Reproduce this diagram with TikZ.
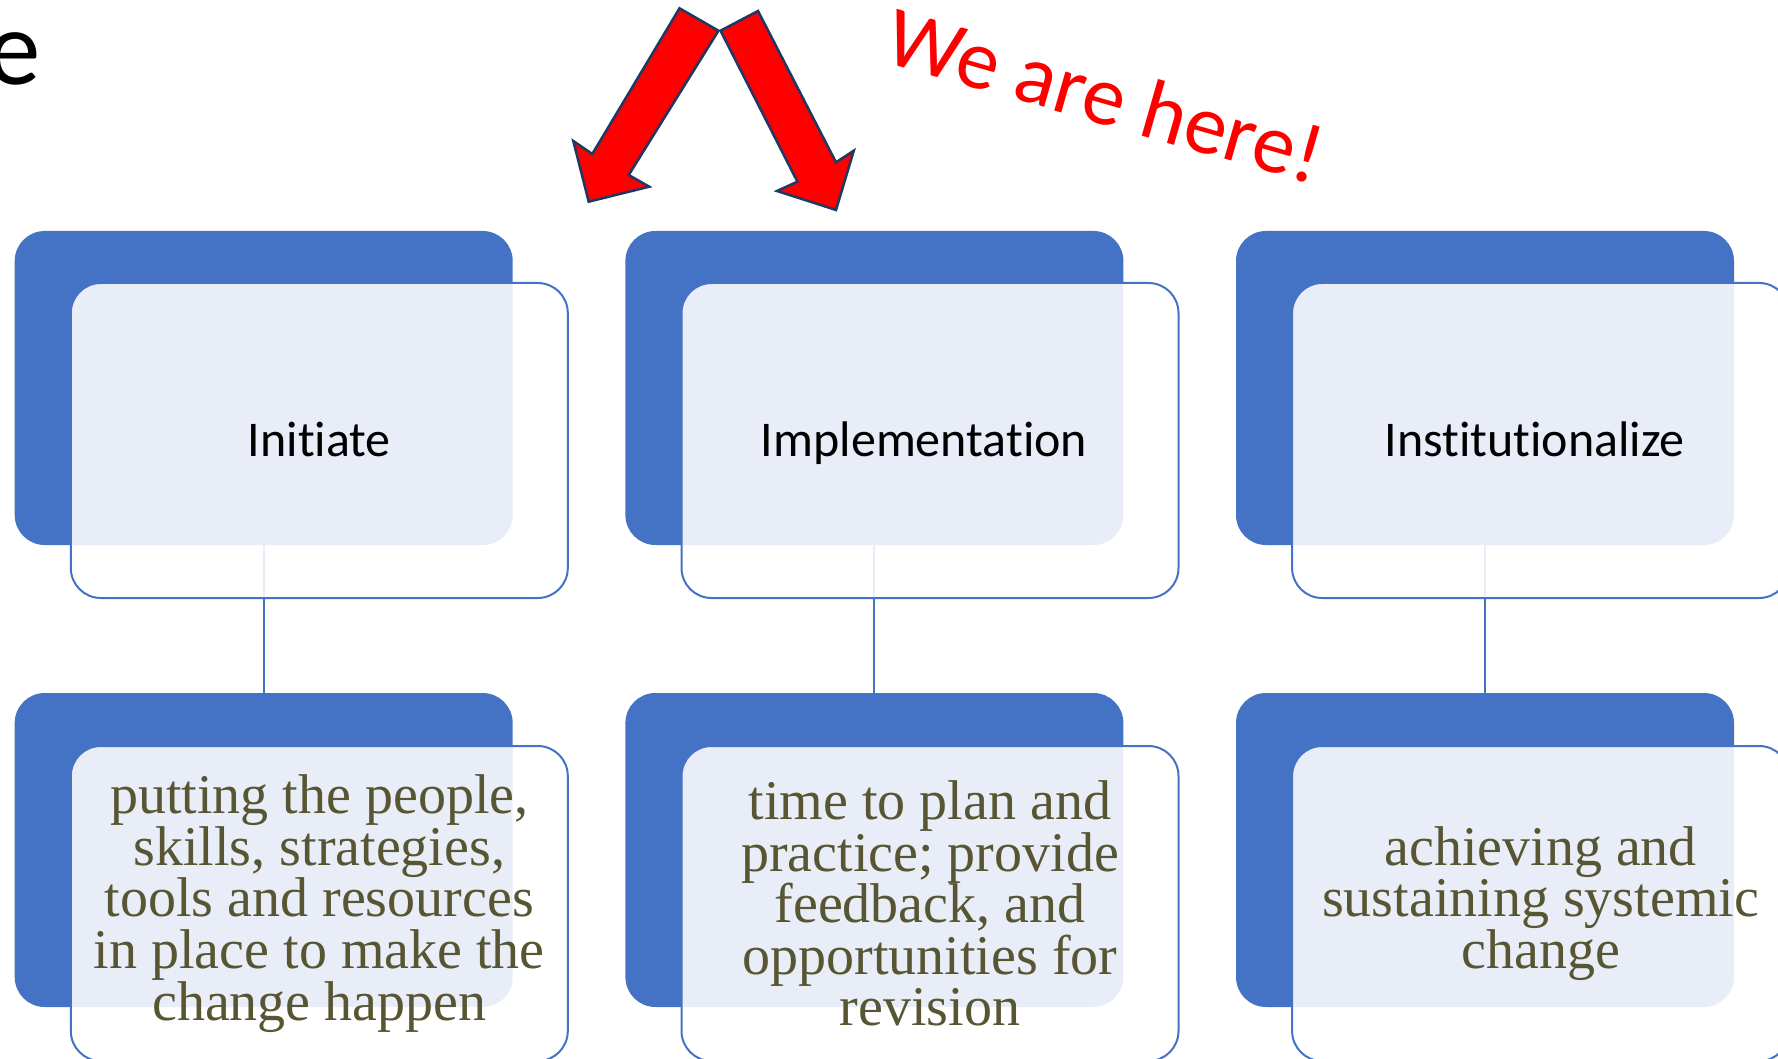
\documentclass[tikz,border=0pt]{standalone}
\usepackage{fontspec}
\setmainfont{Liberation Serif}
\newfontfamily\calibri[Ligatures={NoCommon,NoContextual}]{Carlito}
\definecolor{accent}{HTML}{4472C4}
\definecolor{olivetext}{RGB}{87,85,50}
\definecolor{arrowline}{HTML}{1F3864}
\begin{document}
\begin{tikzpicture}[x=1pt,y=-1pt,
  bluebox/.style={fill=accent, rounded corners=30pt, minimum width=498pt, minimum height=314pt, inner sep=0pt, draw=none},
  outbox/.style={fill=white, fill opacity=0.88, text opacity=1, draw=accent, line width=2pt, rounded corners=30pt, minimum width=497pt, minimum height=315pt, inner sep=0pt, align=center},
  headtext/.style={font=\calibri\fontsize{50}{60}\selectfont, text=black, text height=32pt, text depth=0pt},
  bodytext/.style={font=\fontsize{56}{51.6}\selectfont, text=olivetext},
  conn/.style={draw=accent, line width=2pt},
  redarrow/.style={fill=red, draw=arrowline, line width=2.5pt, line join=miter}]
\useasboundingbox (0,0) rectangle (1778,1059);
\clip (0,0) rectangle (1778,1059);
\fill[white] (0,0) rectangle (1778,1059);

% title remnant
\node[anchor=base east, inner sep=0pt, font=\calibri\fontsize{107}{110}\selectfont] (title) at (41,85) {e};

% blue back boxes
\node[bluebox] (b1t) at (263.7,388) {};
\node[bluebox] (b2t) at (874.4,388) {};
\node[bluebox] (b3t) at (1485,388) {};
\node[bluebox] (b1b) at (263.7,850) {};
\node[bluebox] (b2b) at (874.4,850) {};
\node[bluebox] (b3b) at (1485,850) {};

% connectors
\draw[conn] (b1t.south) -- (b1b.north);
\draw[conn] (b2t.south) -- (b2b.north);
\draw[conn] (b3t.south) -- (b3b.north);

% front boxes
\node[outbox, headtext] (f1t) at (319.3,440.5) {Initiate};
\node[outbox, headtext] (f2t) at (930,440.5) {Implementation\hspace*{12pt}};
\node[outbox, headtext] (f3t) at (1540.6,440.5) {Institutionalize\hspace*{12pt}};
\node[outbox, bodytext] (f1b) at (319.3,903.5) {putting the people,\\skills, strategies,\\tools and resources\\in place to make the\\change happen};
\node[outbox, bodytext] (f2b) at (930,903.5) {time to plan and\\practice; provide\\feedback, and\\opportunities for\\revision};
\node[outbox, bodytext] (f3b) at (1540.6,903.5) {achieving and\\sustaining systemic\\change};

% red arrows
\draw[redarrow] (679.5,8.3) -- (718.5,30.7) -- (628.7,175) -- (649.2,186.7) -- (588.7,201.7) -- (573.3,141) -- (592.3,154) -- cycle;
\draw[redarrow] (720.5,30.7) -- (758,11) -- (836,162.3) -- (853.8,150.7) -- (836,210) -- (777,191) -- (797.4,181.7) -- cycle;

% label
\node[rotate=-16, text=red, font=\calibri\fontsize{85}{95}\selectfont] (here) at (1106,95) {We are here!};
\end{tikzpicture}
\end{document}
